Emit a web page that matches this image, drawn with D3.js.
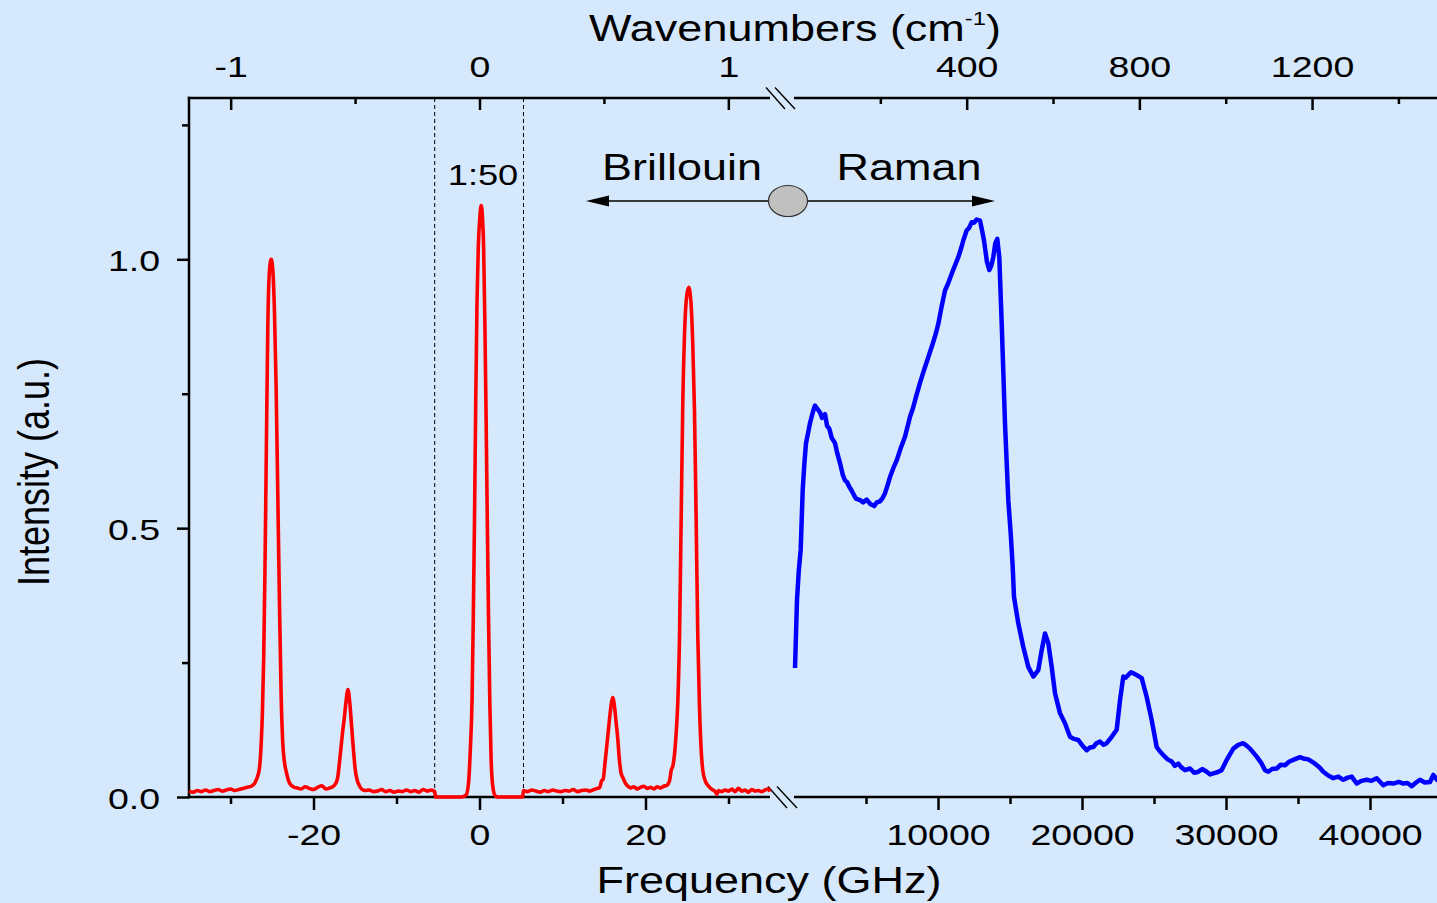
<!DOCTYPE html>
<html><head><meta charset="utf-8">
<script src="https://cdn.jsdelivr.net/npm/d3@7"></script>
<style>body{margin:0;background:#d5e8fc;} svg{display:block}</style>
</head><body><svg id="c" width="1437" height="903"></svg>
<script>
// ---- DATA ----
// Brillouin spectrum (GHz, intensity); central elastic peak shown at 1:50
const brillouin = [
[-35,0.011],[-34.5,0.009],[-34,0.012],[-33.5,0.010],[-33,0.013],[-32.5,0.010],[-32,0.012],[-31.5,0.014],[-31,0.011],[-30.5,0.013],[-30,0.015],[-29.5,0.012],[-29,0.014],[-28.5,0.016],[-28,0.018],[-27.5,0.020],
[-27.0,0.028],[-26.7,0.040],[-26.5,0.055],[-26.3,0.10],[-26.15,0.16],[-26.0,0.26],[-25.85,0.42],[-25.7,0.62],[-25.5,0.88],[-25.3,0.98],[-25.1,1.0],[-24.9,0.98],[-24.7,0.90],[-24.5,0.76],[-24.3,0.56],[-24.1,0.36],[-23.9,0.19],[-23.7,0.10],[-23.5,0.065],[-23.25,0.045],[-23.0,0.03],[-22.7,0.022],[-22.3,0.018],
[-22,0.017],[-21.5,0.015],[-21,0.019],[-20.5,0.016],[-20,0.014],[-19.5,0.018],[-19,0.021],[-18.5,0.015],[-18,0.017],[-17.6,0.02],
[-17.3,0.026],[-17.1,0.035],[-16.9,0.06],[-16.7,0.09],[-16.5,0.12],[-16.3,0.145],[-16.1,0.175],[-15.85,0.20],[-15.6,0.17],[-15.4,0.13],[-15.2,0.09],[-15.0,0.055],[-14.8,0.035],[-14.5,0.022],[-14.2,0.015],
[-13.8,0.012],[-13.3,0.013],[-12.8,0.010],[-12.3,0.011],[-11.8,0.014],[-11.3,0.010],[-10.8,0.012],[-10.3,0.009],[-9.8,0.011],[-9.3,0.010],[-8.8,0.013],[-8.3,0.010],[-7.8,0.012],[-7.3,0.009],[-6.8,0.014],[-6.3,0.011],[-5.8,0.013],[-5.5,0.011],[-5.4,0.010],
[-5.3,0],[-2.2,0],[-1.6,0.004],[-1.3,0.03],[-1.1,0.09],[-0.9,0.18],[-0.75,0.33],[-0.6,0.52],[-0.45,0.74],[-0.3,0.92],[-0.15,1.02],[0.05,1.08],[0.2,1.10],[0.35,1.08],[0.5,1.02],[0.65,0.88],[0.8,0.70],[0.95,0.50],[1.1,0.32],[1.25,0.17],[1.4,0.07],[1.6,0.02],[1.9,0.002],[2.2,0],[5.2,0],
[5.3,0.012],[5.8,0.010],[6.3,0.013],[6.8,0.011],[7.3,0.009],[7.8,0.012],[8.3,0.010],[8.8,0.013],[9.3,0.011],[9.8,0.010],[10.3,0.012],[10.8,0.011],[11.3,0.014],[11.8,0.010],[12.3,0.012],[12.8,0.013],[13.3,0.011],[13.8,0.014],[14.2,0.016],[14.5,0.018],
[14.7,0.03],[14.9,0.033],[15.1,0.06],[15.3,0.09],[15.5,0.12],[15.7,0.15],[15.9,0.175],[16.05,0.185],[16.25,0.17],[16.45,0.14],[16.65,0.11],[16.85,0.07],[17.05,0.045],[17.3,0.035],[17.6,0.025],[17.9,0.02],
[18.2,0.017],[18.6,0.019],[19.0,0.015],[19.4,0.018],[19.8,0.020],[20.2,0.016],[20.6,0.018],[21.0,0.015],[21.4,0.019],[21.8,0.017],[22.2,0.020],[22.6,0.022],
[22.9,0.03],[23.1,0.05],[23.3,0.058],[23.5,0.08],[23.7,0.12],[23.9,0.18],[24.1,0.30],[24.3,0.52],[24.5,0.74],[24.7,0.86],[24.95,0.93],[25.2,0.948],[25.45,0.925],[25.7,0.84],[25.9,0.72],[26.1,0.52],[26.3,0.30],[26.5,0.17],[26.7,0.09],[26.9,0.05],[27.2,0.03],[27.6,0.02],
[28.0,0.014],[28.4,0.010],[28.6,0.005],[28.8,0.012],[29.2,0.010],[29.6,0.013],[30.0,0.011],[30.4,0.015],[30.8,0.010],[31.2,0.016],[31.6,0.011],[32.0,0.013],[32.4,0.009],[32.8,0.014],[33.2,0.011],[33.6,0.012],[34.0,0.010],[34.4,0.013],[34.8,0.015],[35.0,0.010]
];
// Raman spectrum (GHz, intensity)
const raman = [
[70,0.24],[208,0.366],[330,0.42],[465,0.46],[604,0.571],[720,0.62],[833,0.658],[1000,0.68],[1111,0.695],[1300,0.715],[1458,0.728],[1620,0.722],[1806,0.715],[1950,0.705],[2153,0.712],[2300,0.69],[2450,0.685],[2618,0.668],[2847,0.658],[3000,0.64],[3194,0.621],[3400,0.598],[3542,0.589],[3700,0.585],[3819,0.578],[4000,0.570],[4097,0.565],[4300,0.555],[4583,0.552],[4800,0.548],[5049,0.553],[5300,0.545],[5576,0.541],[5750,0.548],[5972,0.550],[6150,0.556],[6319,0.565],[6500,0.58],[6667,0.595],[6900,0.612],[7132,0.626],[7400,0.648],[7708,0.67],[8056,0.707],[8250,0.722],[8472,0.744],[8750,0.77],[9028,0.794],[9326,0.818],[9632,0.843],[9850,0.862],[10021,0.88],[10250,0.912],[10486,0.942],[10700,0.955],[10951,0.973],[11200,0.99],[11410,1.004],[11600,1.02],[11757,1.035],[11993,1.054],[12150,1.058],[12340,1.069],[12500,1.068],[12688,1.074],[12917,1.072],[13050,1.055],[13194,1.035],[13400,0.995],[13563,0.98],[13700,0.988],[13840,1.004],[13980,1.03],[14118,1.038],[14257,1.004],[14424,0.88],[14653,0.695],[14882,0.552],[15049,0.49],[15188,0.428],[15278,0.372],[15576,0.323],[15924,0.279],[16271,0.242],[16618,0.224],[16965,0.236],[17201,0.273],[17431,0.304],[17660,0.286],[17896,0.242],[18125,0.193],[18472,0.156],[18819,0.137],[19167,0.112],[19450,0.108],[19743,0.106],[20050,0.095],[20326,0.087],[20550,0.092],[20785,0.093],[21000,0.1],[21250,0.103],[21500,0.097],[21715,0.1],[22063,0.112],[22410,0.125],[22639,0.18],[22868,0.224],[23050,0.222],[23215,0.227],[23400,0.232],[23563,0.23],[23850,0.226],[24146,0.221],[24493,0.186],[24840,0.143],[25188,0.093],[25400,0.085],[25646,0.078],[25950,0.07],[26229,0.066],[26450,0.058],[26688,0.062],[26900,0.055],[27153,0.05],[27500,0.053],[27800,0.045],[28076,0.047],[28350,0.052],[28660,0.047],[28900,0.042],[29118,0.044],[29400,0.046],[29701,0.05],[30049,0.069],[30507,0.09],[30850,0.097],[31201,0.1],[31450,0.095],[31667,0.09],[32132,0.075],[32479,0.062],[32700,0.05],[32938,0.047],[33200,0.052],[33521,0.053],[33800,0.06],[34097,0.059],[34400,0.066],[34674,0.069],[35139,0.074],[35450,0.071],[35715,0.07],[36181,0.062],[36500,0.055],[36757,0.047],[37100,0.04],[37451,0.035],[37800,0.038],[38146,0.032],[38450,0.036],[38729,0.038],[39076,0.025],[39400,0.03],[39771,0.032],[40100,0.03],[40465,0.035],[40924,0.022],[41250,0.026],[41618,0.025],[42000,0.028],[42313,0.025],[42600,0.026],[42896,0.02],[43200,0.027],[43472,0.032],[43800,0.027],[44167,0.028],[44396,0.041],[44653,0.032],[44900,0.03]
];
const yTicks = [0, 0.5, 1.0], yMinor = [0.25, 0.75, 1.25];
const botLeftTicks = [-20, 0, 20], botLeftMinor = [-30, -10, 10, 30];
const botRightTicks = [10000, 20000, 30000, 40000], botRightMinor = [5000, 15000, 25000, 35000];
const topLeftTicks = [-1, 0, 1], topLeftMinor = [-0.5, 0.5];
const topRightTicks = [400, 800, 1200], topRightMinor = [200, 600, 1000, 1400];
const dashedGHz = [-5.4, 5.3];
const GHZ_PER_CM = 29.98;

// ---- CHART ----
const W = 1437, H = 903;
const SX = 1.25;
const FONT = '"Liberation Sans", Arial, Helvetica, sans-serif';
const svg = d3.select("#c");
svg.append("rect").attr("width", W).attr("height", H).attr("fill", "#d5e8fc");

const y = d3.scaleLinear().domain([0, 1.3]).range([797, 98]);
const xL = d3.scaleLinear().domain([-35, 35]).range([189, 770]);
const xR = d3.scaleLinear().domain([0, 45000]).range([794, 1442]);
const tL = d3.scaleLinear().domain([-35 / GHZ_PER_CM, 35 / GHZ_PER_CM]).range([189, 770]);
const tR = d3.scaleLinear().domain([0, 45000 / GHZ_PER_CM]).range([794, 1442]);
const yBot = y(0), yTop = y(1.3), xLeft = xL.range()[0];

function drawAxis(maker, scale, ticks, size, tx, ty, labels, labelPos) {
  const ax = maker(scale).tickValues(ticks).tickSize(size).tickSizeOuter(0)
    .tickFormat(labels ? labels : () => "");
  const g = svg.append("g").attr("transform", `translate(${tx},${ty})`).call(ax);
  g.select(".domain").remove();
  g.selectAll(".tick line").attr("stroke", "#000").attr("stroke-width", 2.5);
  const t = g.selectAll(".tick text").attr("font-family", FONT).attr("font-size", 30).attr("fill", "#000")
    .attr("transform", `scale(${SX},1)`);
  if (labelPos) labelPos(t);
  return g;
}
const fmtInt = d => String(d);
const botLab = t => t.attr("y", 48).attr("dy", null);
const topLab = t => t.attr("y", -21).attr("dy", null);
// bottom
drawAxis(d3.axisBottom, xL, botLeftTicks, 13, 0, yBot, fmtInt, botLab);
drawAxis(d3.axisBottom, xL, botLeftMinor, 7, 0, yBot);
drawAxis(d3.axisBottom, xR, botRightTicks, 13, 0, yBot, fmtInt, botLab);
drawAxis(d3.axisBottom, xR, botRightMinor, 7, 0, yBot);
// top (ticks inward)
drawAxis(d3.axisTop, tL, topLeftTicks, -12, 0, yTop, fmtInt, topLab);
drawAxis(d3.axisTop, tL, topLeftMinor, -6, 0, yTop);
drawAxis(d3.axisTop, tR, topRightTicks, -12, 0, yTop, fmtInt, topLab);
drawAxis(d3.axisTop, tR, topRightMinor, -6, 0, yTop);
// left
drawAxis(d3.axisLeft, y, yTicks, 12, xLeft, 0, d => d.toFixed(1), t => t.attr("x", -29 / SX).attr("dy", "0.37em"));
drawAxis(d3.axisLeft, y, yMinor, 7, xLeft, 0);

// axis lines
const axLine = (x1, y1, x2, y2) => svg.append("line").attr("x1", x1).attr("y1", y1).attr("x2", x2).attr("y2", y2)
  .attr("stroke", "#000").attr("stroke-width", 2.5);
axLine(xLeft, yTop - 1.2, xLeft, yBot + 1.2);
axLine(xLeft - 1.2, yBot, xL.range()[1], yBot);
axLine(xR.range()[0], yBot, W, yBot);
axLine(xLeft - 1.2, yTop, xL.range()[1], yTop);
axLine(xR.range()[0], yTop, W, yTop);

// break marks
function breakMark(cx, cy) {
  [[-14, 5], [-5, 15]].forEach(([a, b]) => {
    svg.append("line").attr("x1", cx + a).attr("y1", cy - 10.5).attr("x2", cx + b).attr("y2", cy + 11)
      .attr("stroke", "#000").attr("stroke-width", 1.4);
  });
}
const breakX = (xL.range()[1] + xR.range()[0]) / 2;
breakMark(breakX, yBot);
breakMark(breakX - 2, yTop);

// dashed lines
dashedGHz.forEach(v => {
  svg.append("line").attr("x1", xL(v)).attr("x2", xL(v)).attr("y1", yTop).attr("y2", yBot)
    .attr("stroke", "#000").attr("stroke-width", 1).attr("stroke-dasharray", "4,3");
});

// curves
svg.append("path").datum(brillouin)
  .attr("d", d3.line().x(d => xL(d[0])).y(d => y(d[1])).curve(d3.curveMonotoneX))
  .attr("fill", "none").attr("stroke", "#ff0000").attr("stroke-width", 3.6).attr("stroke-linejoin", "round");
svg.append("path").datum(raman)
  .attr("d", d3.line().x(d => xR(d[0])).y(d => y(d[1])))
  .attr("fill", "none").attr("stroke", "#0000ff").attr("stroke-width", 4.5).attr("stroke-linejoin", "round");

// texts
function stext(x, yy, str, size, anchor) {
  return svg.append("text").attr("transform", `translate(${x},${yy}) scale(${SX},1)`)
    .attr("text-anchor", anchor || "middle").attr("font-family", FONT).attr("font-size", size)
    .attr("fill", "#000").text(str);
}
stext(769, 893, "Frequency (GHz)", 36);
const wt = svg.append("text").attr("transform", `translate(795,41) scale(${SX},1)`)
  .attr("text-anchor", "middle").attr("font-family", FONT).attr("font-size", 36).attr("fill", "#000");
wt.append("tspan").text("Wavenumbers (cm");
wt.append("tspan").attr("font-size", 19).attr("dy", -16).text("-1");
wt.append("tspan").attr("dy", 16).text(")");
svg.append("text").attr("transform", `translate(49,472) scale(${SX},1) rotate(-90)`)
  .attr("text-anchor", "middle").attr("font-family", FONT).attr("font-size", 36).attr("fill", "#000")
  .text("Intensity (a.u.)");

stext(483, 185, "1:50", 29);
stext(682, 180, "Brillouin", 36);
stext(909, 180, "Raman", 36);

// arrow with ellipse
const ay = 201;
svg.append("line").attr("x1", 600).attr("x2", 985).attr("y1", ay).attr("y2", ay).attr("stroke", "#000").attr("stroke-width", 1.3);
svg.append("polygon").attr("points", `586,${ay} 609,${ay - 5.5} 609,${ay + 5.5}`).attr("fill", "#000");
svg.append("polygon").attr("points", `995,${ay} 972,${ay - 5.5} 972,${ay + 5.5}`).attr("fill", "#000");
svg.append("ellipse").attr("cx", 788).attr("cy", ay).attr("rx", 19.5).attr("ry", 15.5)
  .attr("fill", "#c0c0c0").attr("stroke", "#333").attr("stroke-width", 1.2);
</script>
</body></html>
